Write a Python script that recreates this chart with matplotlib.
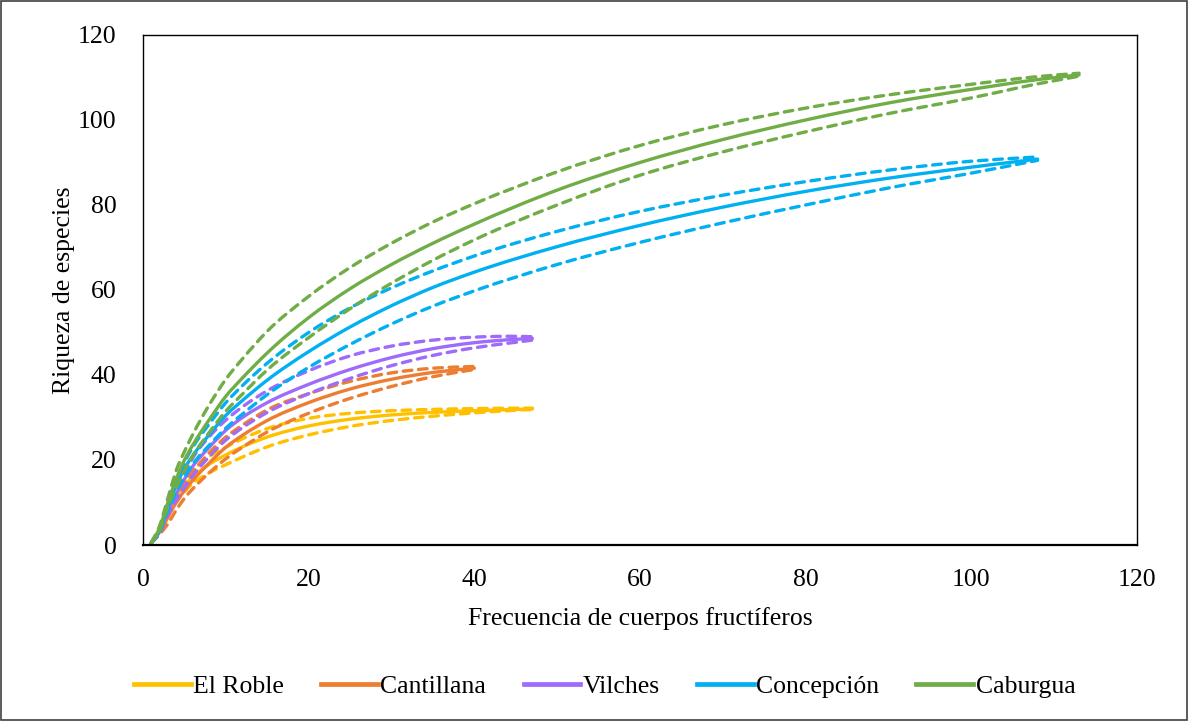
import numpy as np
import matplotlib.pyplot as plt
from matplotlib.patches import Rectangle, PathPatch
from matplotlib.path import Path
from matplotlib.lines import Line2D

plt.rcParams['font.family'] = ['Liberation Serif', 'DejaVu Serif']

# sample sizes (fruiting bodies) and estimated richness: mean, upper and lower bound
x_short = [1, 2, 3, 4, 5, 6, 8, 10, 12, 15, 20, 25, 30, 35, 40, 45, 47]
x_cant = [1, 2, 3, 4, 5, 6, 8, 10, 12, 15, 20, 25, 30, 35, 40]
x_conc = [1, 2, 3, 4, 5, 6, 8, 10, 12, 15, 20, 25, 30, 35, 40, 50, 60, 70, 80, 90, 100, 108]
x_cab = [1, 2, 3, 4, 5, 6, 8, 10, 12, 15, 20, 25, 30, 35, 40, 50, 60, 70, 80, 90, 100, 108, 113]

roble = [0.5, 3.5, 8, 11.5, 14, 16, 19, 21.2, 23.1, 25.4, 28, 29.6, 30.6, 31.2, 31.6, 31.9, 32]
roble_hi = [0.5, 4, 9, 12.5, 15.5, 17.5, 20.8, 23, 25, 27.4, 29.8, 31, 31.6, 31.9, 32.1, 32.2, 32.2]
roble_lo = [0.5, 3, 7, 10, 12.5, 14.5, 17, 18.9, 20.7, 23.1, 25.9, 27.9, 29.3, 30.3, 31.1, 31.7, 31.9]

cant = [0.5, 3, 6.5, 10, 12.8, 15.2, 19.3, 23, 25.8, 29.3, 33.5, 36.7, 39, 40.6, 41.6]
cant_hi = [0.5, 3.5, 7.5, 11.3, 14.5, 17.2, 21.7, 25.4, 28.2, 31.8, 35.6, 38.5, 40.5, 41.6, 42]
cant_lo = [0.5, 2.5, 5, 8.2, 11, 13.2, 17, 20.3, 23, 26.6, 31, 34.5, 37.3, 39.6, 41.3]

vilch = [0.5, 3.5, 8, 12, 15.5, 18.5, 23, 27, 30, 33.5, 37.8, 41.3, 44.1, 46.2, 47.6, 48.4, 48.6]
vilch_hi = [0.5, 4, 9, 13.5, 17, 20.5, 25.5, 29.4, 32.5, 36.3, 41, 44.5, 46.8, 48.2, 48.9, 49.1, 49]
vilch_lo = [0.5, 3, 7, 10.5, 13.5, 16.3, 20.8, 24.7, 27.6, 31.2, 35.6, 39.2, 42.2, 44.6, 46.4, 47.7, 48.2]

conc = [0.5, 3.5, 9, 14, 18, 21, 26, 30.5, 34, 38.8, 45.5, 51.3, 56.3, 60.6, 64.2,
        70.2, 75.2, 79.5, 83.2, 86.3, 88.9, 90.8]
conc_hi = [0.5, 4, 10, 15, 19.5, 23, 28.5, 33.5, 37.5, 42.8, 50, 55.8, 60.5, 64.5, 68,
           73.8, 78.5, 82.3, 85.5, 88.2, 90.3, 91.3]
conc_lo = [0.5, 3, 8, 12.5, 16, 19, 23.5, 27.5, 30.8, 35.4, 41.8, 47.2, 52, 56.2, 59.8,
           66, 71.2, 75.8, 80, 84, 87.5, 90.5]

cab = [0.5, 4, 10, 15.5, 20, 23.5, 29.5, 35, 39.3, 45.2, 53.5, 60.3, 66, 71, 75.5,
       83.5, 90, 95.4, 100, 104, 107.2, 109.5, 110.6]
cab_hi = [0.5, 4.5, 11, 17.5, 22, 26, 33, 39, 43.8, 50.3, 58.5, 65.3, 71, 76, 80.3,
          87.8, 94, 98.9, 102.8, 105.9, 108.4, 110.2, 111]
cab_lo = [0.5, 3.5, 9, 13.5, 17.5, 21, 26.5, 31.5, 35.5, 41.2, 48.8, 55.6, 61.6, 67, 71.8,
          80, 87, 92.5, 97.2, 101.5, 105.2, 108.5, 110.3]

series = [
    ('El Roble', '#FFC000', x_short, roble, roble_hi, roble_lo),
    ('Cantillana', '#ED7D31', x_cant, cant, cant_hi, cant_lo),
    ('Vilches', '#9E6BFA', x_short, vilch, vilch_hi, vilch_lo),
    ('Concepción', '#00B0F0', x_conc, conc, conc_hi, conc_lo),
    ('Caburgua', '#70AD47', x_cab, cab, cab_hi, cab_lo),
]


def smooth_path(xs, ys):
    # smoothed line through the points: cubic Hermite pieces written as Bezier segments
    x = np.asarray(xs, float)
    y = np.asarray(ys, float)
    h = np.diff(x)
    d = np.diff(y) / h
    m = np.empty_like(x)
    m[0], m[-1] = d[0], d[-1]
    m[1:-1] = (d[:-1] * h[1:] + d[1:] * h[:-1]) / (h[:-1] + h[1:])
    verts = [(x[0], y[0])]
    codes = [Path.MOVETO]
    for i in range(len(x) - 1):
        verts += [(x[i] + h[i] / 3, y[i] + m[i] * h[i] / 3),
                  (x[i + 1] - h[i] / 3, y[i + 1] - m[i + 1] * h[i] / 3),
                  (x[i + 1], y[i + 1])]
        codes += [Path.CURVE4] * 3
    return Path(verts, codes)


fig = plt.figure(figsize=(11.88, 7.21), dpi=100)
ax = fig.add_axes([0.1204, 0.2441, 0.8367, 0.7074])

handles = []
for name, col, xs, mid, hi, lo in series:
    ax.add_patch(PathPatch(smooth_path(xs, mid), fill=False, edgecolor=col, lw=2.4,
                           capstyle='round', joinstyle='round'))
    for band in (hi, lo):
        ax.add_patch(PathPatch(smooth_path(xs, band), fill=False, edgecolor=col, lw=2.4,
                               linestyle=(0, (2.6, 2.0)), capstyle='round'))
    handles.append(Line2D([], [], color=col, lw=3.4, label=name))

ax.set_xlim(0, 120)
ax.set_ylim(0, 120)
ax.set_xticks(range(0, 121, 20))
ax.set_yticks(range(0, 121, 20))
ax.tick_params(length=0, labelsize=18.5)
ax.tick_params(axis='x', pad=17)
ax.tick_params(axis='y', pad=19)
for s in ax.spines.values():
    s.set_linewidth(1.0)
ax.spines['bottom'].set_linewidth(1.6)

ax.set_xlabel('Frecuencia de cuerpos fructíferos', fontsize=18.5, labelpad=12)
ax.set_ylabel('Riqueza de especies', fontsize=18.5, labelpad=2)

fig.legend(handles=handles, loc='center', bbox_to_anchor=(0.509, 0.048), ncol=5,
           frameon=False, fontsize=18.5, handlelength=2.2, handletextpad=0.1,
           columnspacing=1.45)

# chart border
fig.patches.append(Rectangle((0.0005, 0.0008), 0.999, 0.998, transform=fig.transFigure,
                             fill=False, edgecolor='#404040', lw=1.2))

fig.savefig('out.png', dpi=100)
